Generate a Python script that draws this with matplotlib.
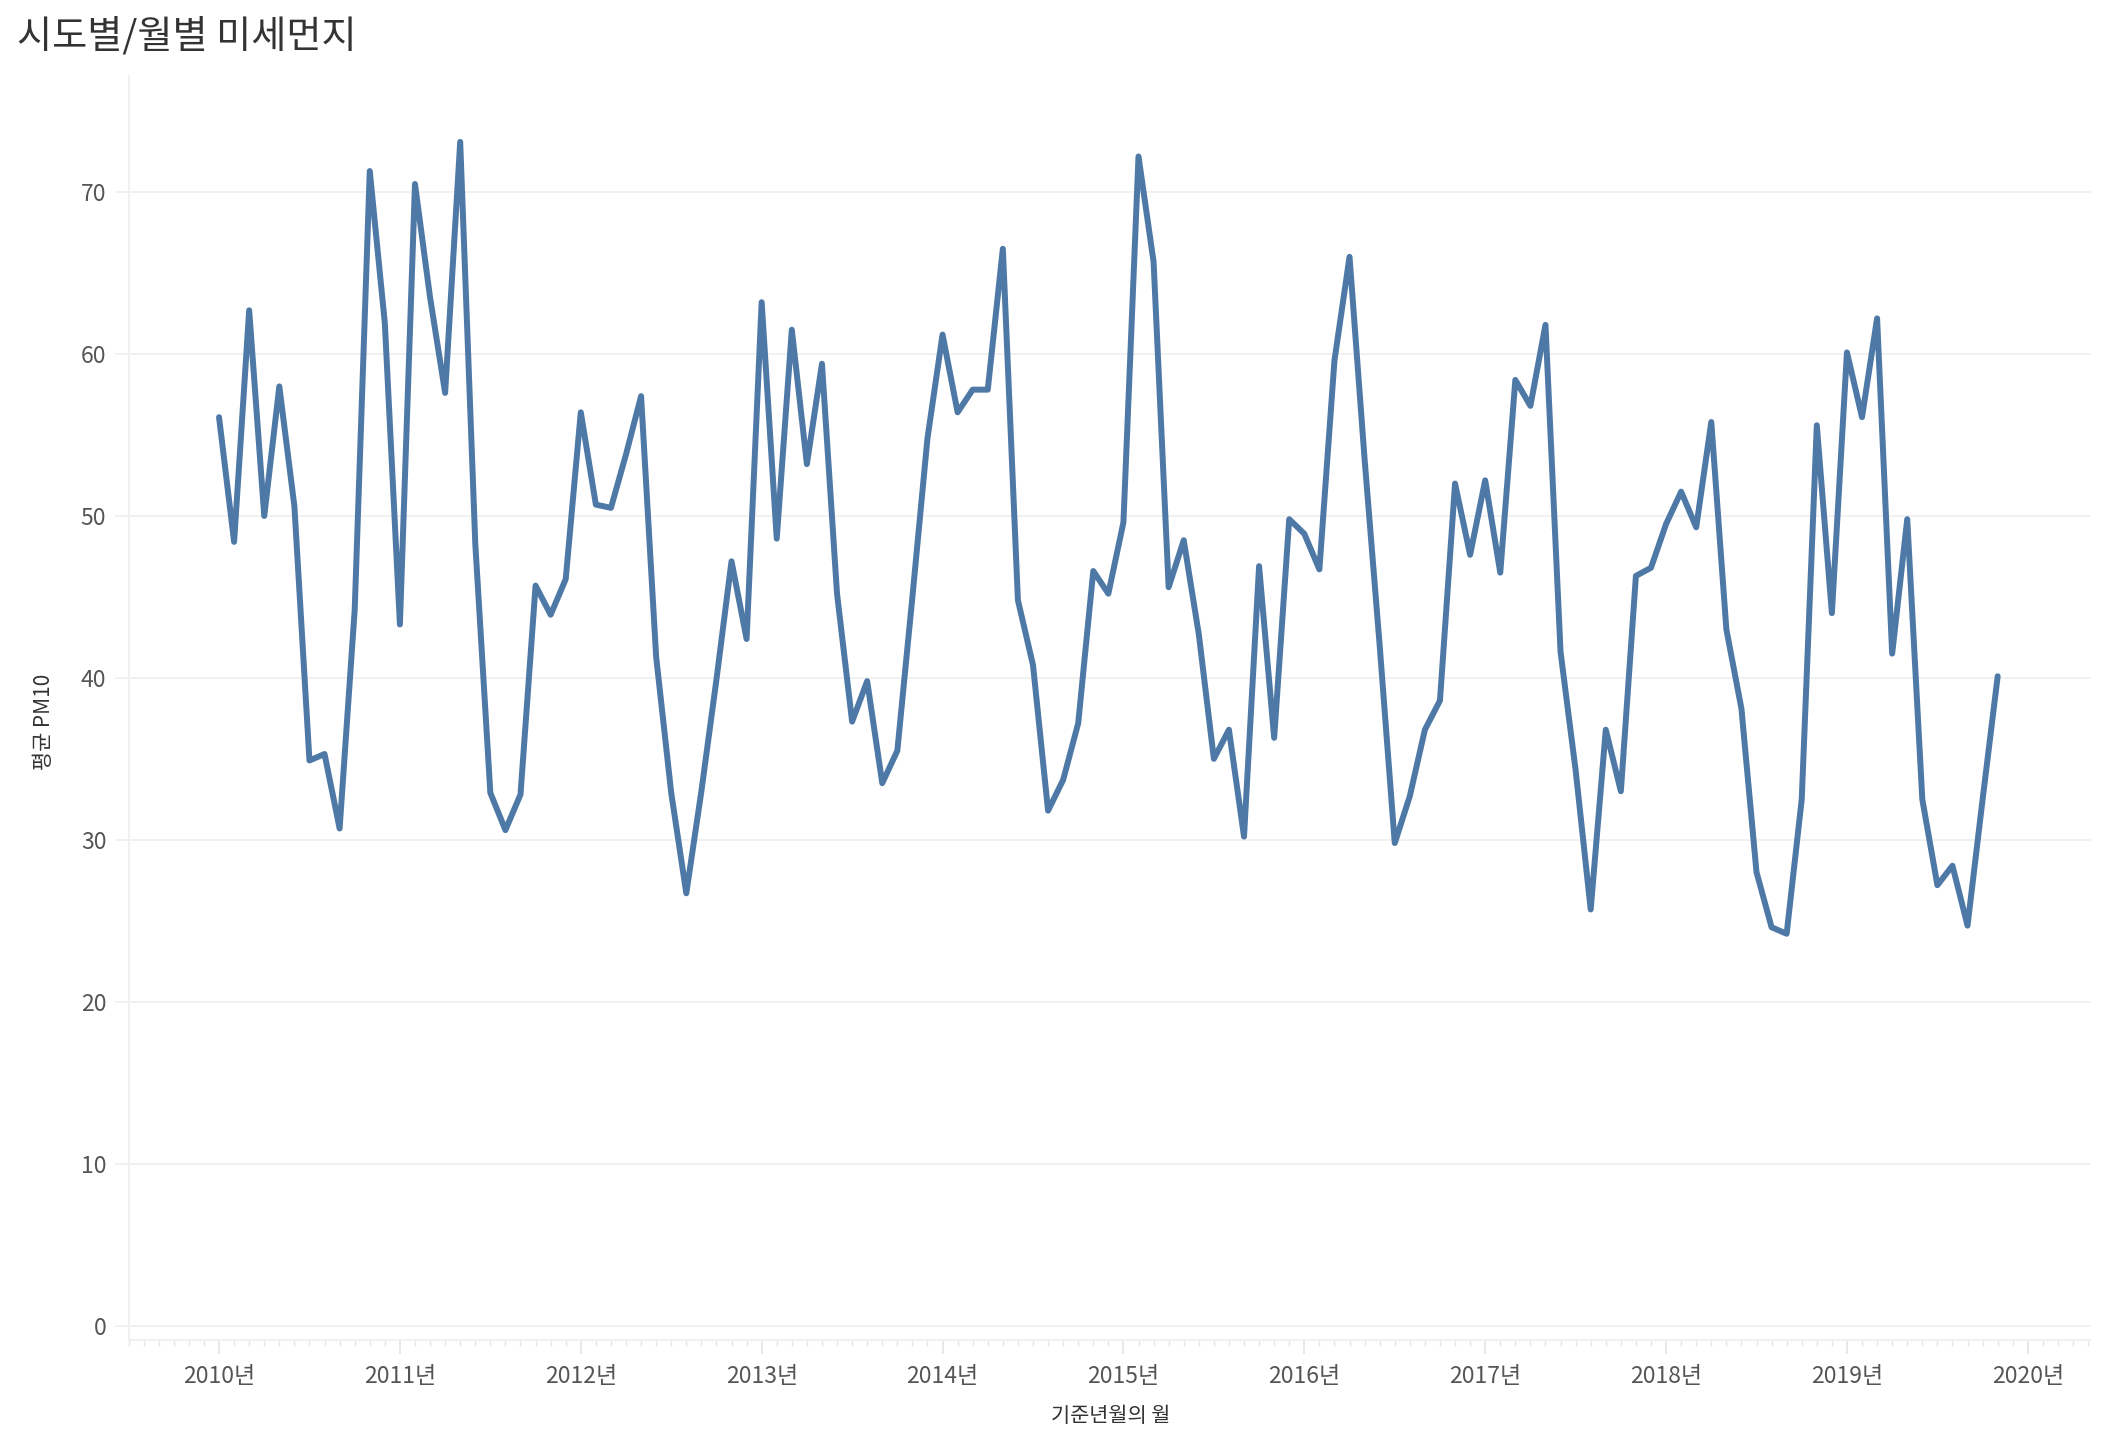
import numpy as np
import matplotlib.pyplot as plt
from matplotlib.ticker import MultipleLocator

plt.rcParams['font.family'] = ['Noto Sans CJK KR', 'DejaVu Sans']

# monthly mean PM10, Jan 2010 .. Nov 2019
pm_2010 = [56.1, 48.4, 62.7, 50.0, 58.0, 50.6, 34.9, 35.3, 30.7, 44.2, 71.3, 61.9]
pm_2011 = [43.3, 70.5, 63.5, 57.6, 73.1, 48.3, 32.9, 30.6, 32.8, 45.7, 43.9, 46.1]
pm_2012 = [56.4, 50.7, 50.5, 53.8, 57.4, 41.3, 32.9, 26.7, 33.0, 39.9, 47.2, 42.4]
pm_2013 = [63.2, 48.6, 61.5, 53.2, 59.4, 45.2, 37.3, 39.8, 33.5, 35.5, 45.0, 54.8]
pm_2014 = [61.2, 56.4, 57.8, 57.8, 66.5, 44.8, 40.8, 31.8, 33.7, 37.2, 46.6, 45.2]
pm_2015 = [49.6, 72.2, 65.7, 45.6, 48.5, 42.7, 35.0, 36.8, 30.2, 46.9, 36.3, 49.8]
pm_2016 = [48.9, 46.7, 59.6, 66.0, 53.5, 42.0, 29.8, 32.7, 36.8, 38.6, 52.0, 47.6]
pm_2017 = [52.2, 46.5, 58.4, 56.8, 61.8, 41.6, 34.3, 25.7, 36.8, 33.0, 46.3, 46.8]
pm_2018 = [49.5, 51.5, 49.3, 55.8, 43.0, 38.1, 28.0, 24.6, 24.2, 32.5, 55.6, 44.0]
pm_2019 = [60.1, 56.1, 62.2, 41.5, 49.8, 32.5, 27.2, 28.4, 24.7, 32.5, 40.1]

pm = (pm_2010 + pm_2011 + pm_2012 + pm_2013 + pm_2014 + pm_2015 + pm_2016
      + pm_2017 + pm_2018 + pm_2019)
years = list(range(2010, 2021))
year_labels = [f"{y}년" for y in years]

t = 2010 + np.arange(len(pm)) / 12

fig = plt.figure(figsize=(21.08, 14.52), dpi=100)
ax = fig.add_axes([0.061, 0.077, 0.931, 0.871])

ax.plot(t, pm, color='#4e79a7', lw=4.3, solid_joinstyle='round', solid_capstyle='round')

ax.set_xlim(2009.50, 2020.35)
ax.set_ylim(-0.9, 77.2)
ax.set_yticks(range(0, 80, 10))
ax.set_xticks(years)
ax.set_xticklabels(year_labels)
ax.xaxis.set_minor_locator(MultipleLocator(1 / 12))

ax.grid(axis='y', color='#f0f0f0', lw=1.3)
ax.set_axisbelow(True)
for s in ['top', 'right']:
    ax.spines[s].set_visible(False)
for s in ['left', 'bottom']:
    ax.spines[s].set_color('#f0f0f0')
    ax.spines[s].set_linewidth(1.3)

ax.tick_params(axis='y', length=10, width=1.3, color='#f0f0f0', labelsize=16.5,
               labelcolor='#555555', pad=6)
ax.tick_params(axis='x', which='major', length=10, width=1.3, color='#e6e6e6',
               labelsize=16.5, labelcolor='#555555', pad=8)
ax.tick_params(axis='x', which='minor', length=4, width=1.0, color='#e6e6e6')

fig.text(0.008, 0.988, '시도별/월별 미세먼지', fontsize=27.5, color='#333333',
         ha='left', va='top')
fig.text(0.527, 0.025, '기준년월의 월', fontsize=15, color='#333333',
         ha='center', va='center')
fig.text(0.021, 0.503, '평균 PM10', fontsize=15, color='#333333',
         ha='center', va='center', rotation=90)

fig.savefig('out.png', dpi=100)
